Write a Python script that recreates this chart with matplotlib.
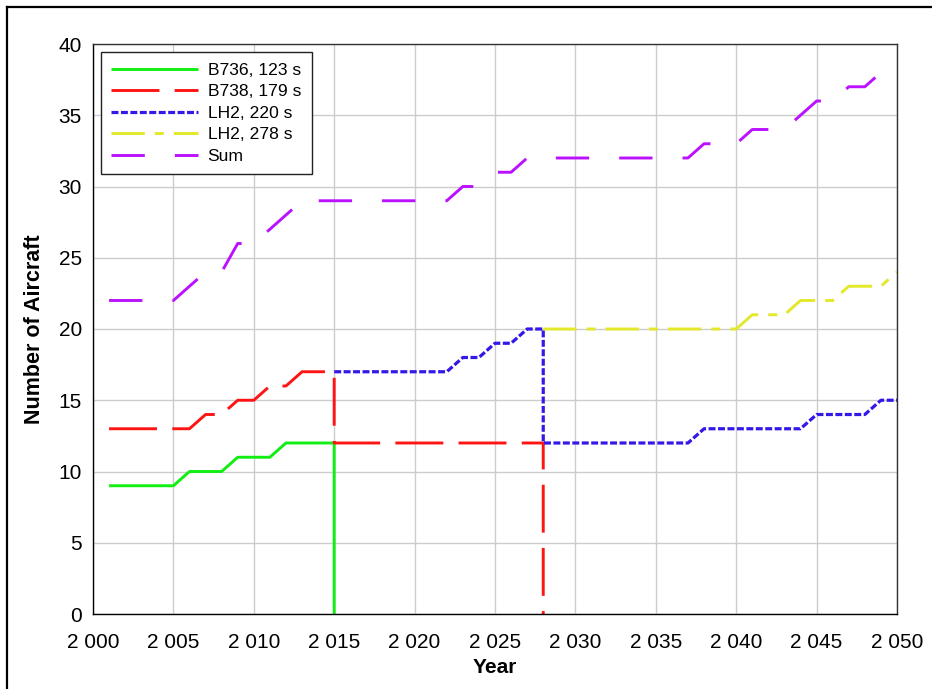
import matplotlib
matplotlib.use("Agg")
import matplotlib.pyplot as plt
from matplotlib.ticker import FuncFormatter
from matplotlib.lines import Line2D

plt.rcParams['font.family'] = ['Liberation Sans', 'DejaVu Sans']
plt.rcParams['lines.scale_dashes'] = False

# ---- data ----
b736_years = [2001, 2002, 2003, 2004, 2005, 2006, 2007, 2008, 2009, 2010,
              2011, 2012, 2013, 2014, 2015, 2015]
b736_vals = [9, 9, 9, 9, 9, 10, 10, 10, 11, 11, 11, 12, 12, 12, 12, 0]

b738_years = [2001, 2002, 2003, 2004, 2005, 2006, 2007, 2008, 2009, 2010,
              2011, 2012, 2013, 2014, 2015, 2015, 2016, 2017, 2018, 2019,
              2020, 2021, 2022, 2023, 2024, 2025, 2026, 2027, 2028, 2028]
b738_vals = [13, 13, 13, 13, 13, 13, 14, 14, 15, 15,
             16, 16, 17, 17, 17, 12, 12, 12, 12, 12,
             12, 12, 12, 12, 12, 12, 12, 12, 12, 0]

lh220_years = [2015, 2016, 2017, 2018, 2019, 2020, 2021, 2022, 2023, 2024,
               2025, 2026, 2027, 2028, 2028, 2029, 2030, 2031, 2032, 2033,
               2034, 2035, 2036, 2037, 2038, 2039, 2040, 2041, 2042, 2043,
               2044, 2045, 2046, 2047, 2048, 2049, 2050]
lh220_vals = [17, 17, 17, 17, 17, 17, 17, 17, 18, 18,
              19, 19, 20, 20, 12, 12, 12, 12, 12, 12,
              12, 12, 12, 12, 13, 13, 13, 13, 13, 13,
              13, 14, 14, 14, 14, 15, 15]

lh278_years = [2028, 2029, 2030, 2031, 2032, 2033, 2034, 2035, 2036, 2037,
               2038, 2039, 2040, 2041, 2042, 2043, 2044, 2045, 2046, 2047,
               2048, 2049, 2050]
lh278_vals = [20, 20, 20, 20, 20, 20, 20, 20, 20, 20,
              20, 20, 20, 21, 21, 21, 22, 22, 22, 23,
              23, 23, 24]

sum_years = list(range(2001, 2051))
sum_vals = [22, 22, 22, 22, 22, 23, 24, 24, 26, 26,
            27, 28, 29, 29, 29, 29, 29, 29, 29, 29,
            29, 29, 30, 30, 31, 31, 32, 32, 32, 32,
            32, 32, 32, 32, 32, 32, 32, 33, 33, 33,
            34, 34, 34, 35, 36, 36, 37, 37, 38, 39]

labels = ["B736, 123 s", "B738, 179 s", "LH2, 220 s", "LH2, 278 s", "Sum"]
x_ticks = list(range(2000, 2051, 5))
y_ticks = list(range(0, 41, 5))

# ---- figure ----
W, H = 932, 689
fig = plt.figure(figsize=(W / 100, H / 100), dpi=100)
ax = fig.add_axes([93 / W, 1 - 614 / H, (897 - 93) / W, (614 - 44) / H])

LW = 2.1
ax.plot(b736_years, b736_vals, color='#11EE11', lw=LW, solid_capstyle='butt',
        label=labels[0])
ax.plot(b738_years, b738_vals, color='#FF1414', lw=LW, dashes=(34.5, 11),
        dash_capstyle='butt', label=labels[1])
ax.plot(lh220_years, lh220_vals, color='#3318E8', lw=2.3, dashes=(5, 1.8),
        dash_capstyle='butt', label=labels[2])
ax.plot(lh278_years, lh278_vals, color='#E3E82B', lw=LW,
        dashes=(24, 7.2, 6.5, 7.2), dash_capstyle='butt', label=labels[3])
ax.plot(sum_years, sum_vals, color='#BB11FF', lw=LW, dashes=(24, 21.6),
        dash_capstyle='butt', label=labels[4])

ax.set_xlim(2000, 2050)
ax.set_ylim(0, 40)
ax.set_xticks(x_ticks)
ax.set_yticks(y_ticks)
ax.xaxis.set_major_formatter(FuncFormatter(lambda v, p: f"{int(v):,}".replace(",", " ")))
ax.tick_params(axis='both', length=0, labelsize=15)
ax.tick_params(axis='x', pad=14)
ax.tick_params(axis='y', pad=8)
ax.grid(True, color='#CCCCCC', lw=1.0)
ax.set_axisbelow(True)
for s in ax.spines.values():
    s.set_color('#333333')
    s.set_linewidth(1.0)
ax.spines['left'].set_color('black')
ax.spines['bottom'].set_color('black')

ax.set_xlabel("Year", fontsize=15, fontweight='bold', labelpad=4)
ax.set_ylabel("Number of Aircraft", fontsize=15.5, fontweight='bold', labelpad=10)

leg = ax.legend(loc='upper left', fontsize=12.6, frameon=True, fancybox=False,
                edgecolor='#222222', framealpha=1, handlelength=4.95,
                handletextpad=0.55, labelspacing=0.36, borderpad=0.6,
                borderaxespad=0.45)
leg.get_frame().set_linewidth(1.0)

# outer frame lines (left and top)
fig.add_artist(Line2D([7 / W, 7 / W], [0, 1 - 7 / H], transform=fig.transFigure,
                      color='black', lw=1.6))
fig.add_artist(Line2D([7 / W, 1], [1 - 7 / H, 1 - 7 / H], transform=fig.transFigure,
                      color='black', lw=1.6))

fig.savefig("out.png", dpi=100)
